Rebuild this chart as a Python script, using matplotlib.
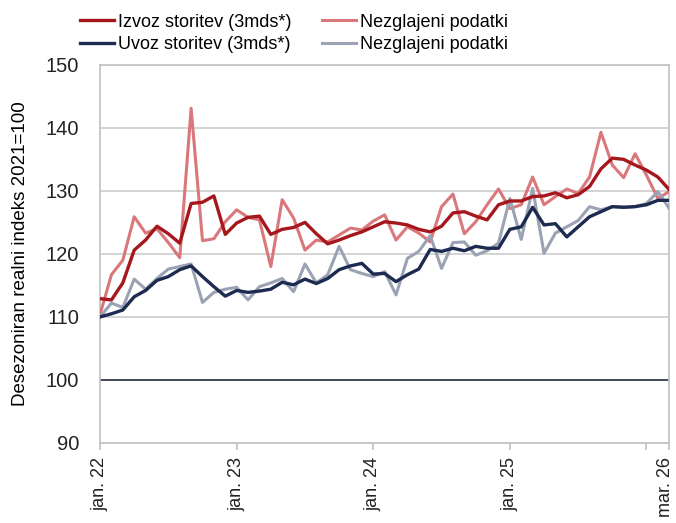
import numpy as np
import pandas as pd
import matplotlib.pyplot as plt
import matplotlib.transforms as mtransforms

plt.rcParams['font.family'] = ['Liberation Sans', 'DejaVu Sans']

# monthly, jan 2022 - mar 2026
months = pd.date_range("2022-01-01", "2026-03-01", freq="MS")

izvoz_3m = [112.9, 112.7, 115.4, 120.6, 122.2, 124.4, 123.2, 121.7, 128.0, 128.2, 129.2, 123.1,
            124.9, 125.8, 126.0, 123.1, 123.9, 124.2, 125.0, 123.2, 121.6, 122.2, 122.9, 123.5,
            124.3, 125.1, 124.9, 124.6, 123.9, 123.5, 124.4, 126.5, 126.7, 126.0, 125.4, 127.8,
            128.4, 128.4, 129.1, 129.2, 129.7, 128.9, 129.4, 130.7, 133.5, 135.2, 135.0, 134.1,
            133.3, 132.2, 130.2]
izvoz_raw = [110.4, 116.7, 119.0, 125.9, 123.3, 124.0, 121.8, 119.4, 143.1, 122.1, 122.4, 125.1,
             127.0, 125.8, 125.4, 118.0, 128.6, 125.7, 120.6, 122.2, 121.9, 123.0, 124.1, 123.8,
             125.2, 126.2, 122.2, 124.3, 123.3, 121.9, 127.5, 129.5, 123.2, 125.1, 127.8, 130.3,
             127.2, 127.8, 132.2, 127.8, 129.1, 130.3, 129.6, 132.2, 139.3, 134.1, 132.1, 135.9,
             132.5, 128.8, 129.9]
uvoz_3m = [110.0, 110.5, 111.1, 113.2, 114.2, 115.8, 116.4, 117.5, 118.1, 116.4, 114.8, 113.3,
           114.2, 113.9, 114.1, 114.4, 115.5, 115.1, 116.0, 115.3, 116.1, 117.5, 118.1, 118.5,
           116.8, 116.9, 115.6, 116.7, 117.6, 120.7, 120.4, 120.9, 120.5, 121.2, 120.9, 120.9,
           123.9, 124.3, 127.4, 124.6, 124.8, 122.7, 124.3, 125.9, 126.7, 127.5, 127.4, 127.5,
           127.8, 128.5, 128.5]
uvoz_raw = [110.0, 112.2, 111.5, 116.0, 114.4, 116.1, 117.6, 118.0, 118.4, 112.3, 113.9, 114.4,
            114.7, 112.7, 114.8, 115.4, 116.1, 114.0, 118.4, 115.4, 116.7, 121.2, 117.5, 116.9,
            116.4, 117.2, 113.5, 119.3, 120.4, 122.9, 117.7, 121.8, 121.9, 119.8, 120.5, 121.7,
            128.8, 122.3, 130.4, 120.1, 123.3, 124.3, 125.3, 127.5, 127.0, 127.5, 127.4, 127.5,
            128.0, 129.9, 127.2]

x = np.arange(len(months))
tick_pos = [0, 12, 24, 36, 48, 50]
tick_lab = ["jan. 22", "jan. 23", "jan. 24", "jan. 25", "", "mar. 26"]

fig = plt.figure(figsize=(6.76, 5.23), dpi=100)
ax = fig.add_axes([0.148, 0.153, 0.842, 0.723])

ax.plot(x, izvoz_raw, color="#d9777b", lw=2.2, label="Nezglajeni podatki", zorder=3)
ax.plot(x, uvoz_raw, color="#9aa2b3", lw=2.2, label="Nezglajeni podatki", zorder=3)
ax.plot(x, izvoz_3m, color="#a5161d", lw=2.4, label="Izvoz storitev (3mds*)", zorder=4)
ax.plot(x, uvoz_3m, color="#1c2b4f", lw=2.4, label="Uvoz storitev (3mds*)", zorder=4)

ax.axhline(100, color="#3a4150", lw=1.3, zorder=2)
ax.set_ylim(90, 150)
ax.set_xlim(0, 50)
ax.set_yticks(range(90, 151, 10))
ax.grid(axis="y", color="#c8c8c8", lw=1.1, zorder=0)
for s in ax.spines.values():
    s.set_color("#c0c0c0")
    s.set_linewidth(1.2)
ax.tick_params(axis="y", length=0, labelsize=14.5, pad=15, colors="#222222")
ax.set_xticks(tick_pos)
ax.set_xticklabels(tick_lab, rotation=90, fontsize=13, color="#222222")
ax.tick_params(axis="x", length=5, color="#c0c0c0", width=1.2, pad=5)
# nudge last label inside the figure
last = ax.get_xticklabels()[-1]
last.set_transform(last.get_transform() + mtransforms.ScaledTranslation(-3 / 72, 0, fig.dpi_scale_trans))
ax.set_ylabel("Desezoniran realni indeks 2021=100", fontsize=13.5, labelpad=12)

h, l = ax.get_legend_handles_labels()
order = [2, 3, 0, 1]
fig.legend([h[i] for i in order], [l[i] for i in order], ncol=2, loc="upper left",
           bbox_to_anchor=(0.094, 1.005), frameon=False, handlelength=1.9,
           handletextpad=0.2, columnspacing=1.7, labelspacing=0.3,
           prop={"size": 13})

fig.savefig("out.png", dpi=100)
